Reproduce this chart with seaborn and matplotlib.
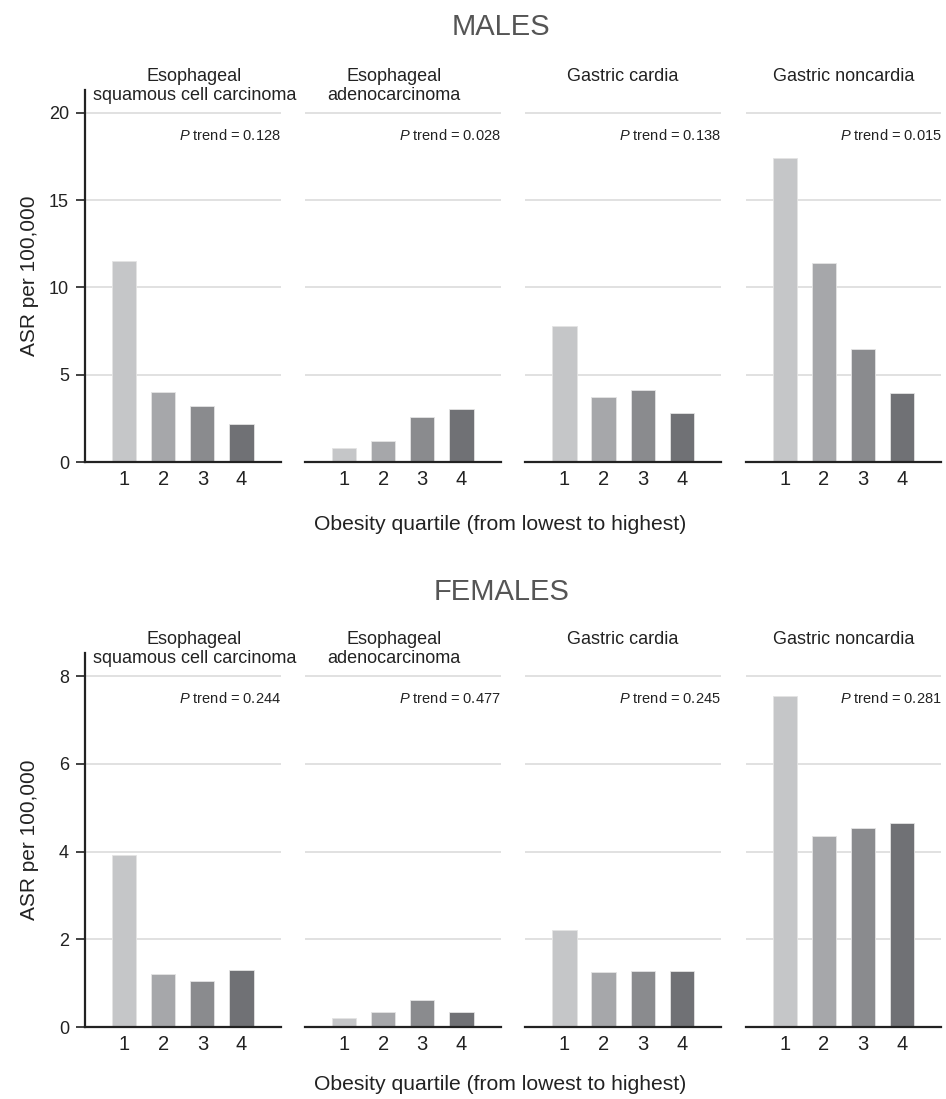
import matplotlib
matplotlib.use("Agg")
import matplotlib.pyplot as plt
import seaborn as sns
import pandas as pd

# Obesity quartiles and cancer sites
quartiles = ["1", "2", "3", "4"]
sites = [
    "Esophageal\nsquamous cell carcinoma",
    "Esophageal\nadenocarcinoma",
    "Gastric cardia",
    "Gastric noncardia",
]

# Age-standardised rates per 100,000, by quartile
male_escc = [11.5, 4.0, 3.2, 2.2]
male_eac = [0.8, 1.2, 2.6, 3.05]
male_gc = [7.8, 3.75, 4.13, 2.8]
male_gnc = [17.4, 11.4, 6.45, 3.98]

female_escc = [3.93, 1.2, 1.05, 1.3]
female_eac = [0.21, 0.35, 0.61, 0.35]
female_gc = [2.22, 1.25, 1.28, 1.28]
female_gnc = [7.54, 4.36, 4.53, 4.66]

male_ptrend = ["0.128", "0.028", "0.138", "0.015"]
female_ptrend = ["0.244", "0.477", "0.245", "0.281"]

male_yticks = [0, 5, 10, 15, 20]
female_yticks = [0, 2, 4, 6, 8]

bar_colors = ["#c5c6c8", "#a6a7aa", "#8a8b8e", "#707175"]

sns.set_style("white")
plt.rcParams["font.family"] = ["Liberation Sans", "DejaVu Sans"]
plt.rcParams["mathtext.fontset"] = "custom"
plt.rcParams["mathtext.it"] = "Liberation Sans:italic"
plt.rcParams["mathtext.rm"] = "Liberation Sans"

fig = plt.figure(figsize=(9.46, 10.99), dpi=100)

lefts = [0.0899, 0.3224, 0.5553, 0.7883]
width = 0.2067
title_x = [0.559, 0.457, 0.5, 0.5]

sections = [
    ("MALES", [male_escc, male_eac, male_gc, male_gnc], male_ptrend,
     male_yticks, 21.3, 0.5796, 0.3385, 0.975),
    ("FEMALES", [female_escc, female_eac, female_gc, female_gnc], female_ptrend,
     female_yticks, 8.53, 0.0655, 0.3403, 0.461),
]

spine_color = "#222222"
text_color = "#222222"

for name, series, ptrends, yticks, ytop, bottom, height, title_y in sections:
    for i, (vals, p) in enumerate(zip(series, ptrends)):
        ax = fig.add_axes([lefts[i], bottom, width, height])
        df = pd.DataFrame({"quartile": quartiles, "asr": vals})
        sns.barplot(data=df, x="quartile", y="asr", hue="quartile",
                    palette=bar_colors, legend=False, width=0.62,
                    saturation=1, ax=ax, zorder=3,
                    edgecolor="#e4e4e4", linewidth=0.6)
        ax.set_xlim(-1, 4)
        ax.set_ylim(0, ytop)
        ax.set_yticks(yticks)
        ax.yaxis.grid(True, color="#dcdcdc", linewidth=1.2, zorder=0)
        ax.set_axisbelow(True)
        for s in ["top", "right"]:
            ax.spines[s].set_visible(False)
        ax.spines["bottom"].set_color(spine_color)
        ax.spines["bottom"].set_linewidth(1.6)
        ax.spines["bottom"].set_zorder(4)
        ax.tick_params(axis="x", length=0, pad=6, labelsize=14.5, colors=text_color)
        ax.set_xlabel("")
        if i == 0:
            ax.spines["left"].set_color(spine_color)
            ax.spines["left"].set_linewidth(1.6)
            ax.tick_params(axis="y", length=6.5, width=1.2, color=spine_color,
                           pad=5, labelsize=13, labelcolor=text_color, left=True)
            ax.set_ylabel("ASR per 100,000", fontsize=15, color=text_color)
            ax.yaxis.set_label_coords(-0.235, 0.5)
        else:
            ax.spines["left"].set_visible(False)
            ax.tick_params(axis="y", length=0, labelleft=False, left=False)
            ax.set_ylabel("")
        ax.text(title_x[i], 1.058, sites[i], transform=ax.transAxes,
                ha="center", va="top", fontsize=13, color=text_color,
                linespacing=1.1)
        ax.text(1.0, 0.878, r"$\it{P}$" + " trend = " + p, transform=ax.transAxes,
                ha="right", va="center", fontsize=10.5, color=text_color)

    fig.text(0.53, title_y, name, ha="center", va="center", fontsize=21,
             color="#555555")

fig.text(0.529, 1 - 525 / 1099, "Obesity quartile (from lowest to highest)",
         ha="center", va="center", fontsize=15.2, color=text_color)
fig.text(0.529, 1 - 1085 / 1099, "Obesity quartile (from lowest to highest)",
         ha="center", va="center", fontsize=15.2, color=text_color)

fig.savefig("out.png", dpi=100, facecolor="white")
